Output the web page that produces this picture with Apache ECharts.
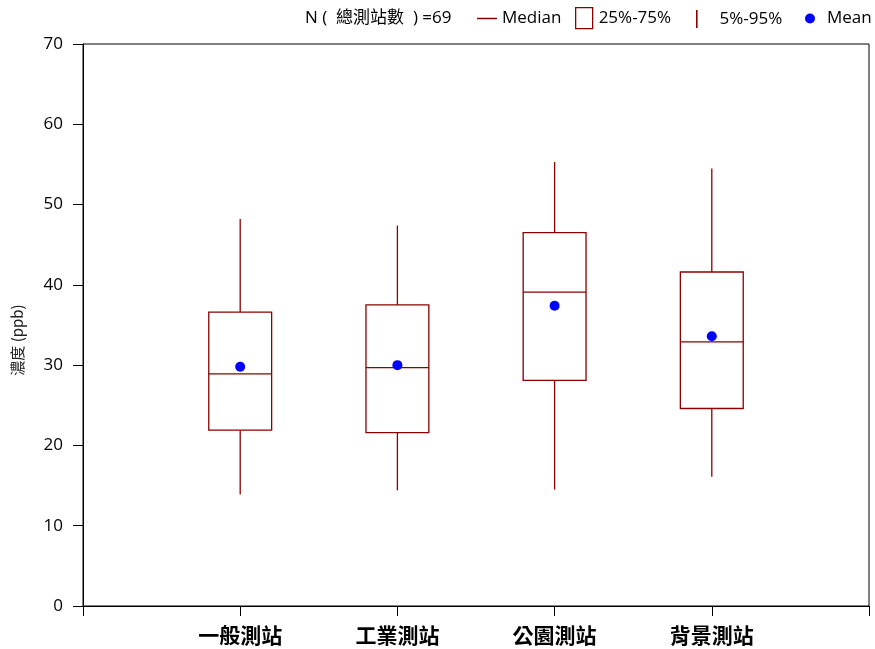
<!DOCTYPE html>
<html>
<head>
<meta charset="utf-8">
<script src="https://cdn.jsdelivr.net/npm/echarts@6/dist/echarts.min.js"></script>
<style>html,body{margin:0;padding:0;background:#fff;}#c{width:875px;height:649px;}</style>
</head>
<body>
<div id="c"></div>
<script>
var categories = ['一般測站', '工業測站', '公園測站', '背景測站'];
var p5 = [13.9, 14.4, 14.5, 16.1];
var q1 = [21.9, 21.6, 28.1, 24.6];
var median = [28.9, 29.7, 39.1, 32.9];
var q3 = [36.6, 37.5, 46.5, 41.6];
var p95 = [48.2, 47.4, 55.3, 54.5];
var mean = [29.8, 30.0, 37.4, 33.6];
var yTicks = [0, 10, 20, 30, 40, 50, 60, 70];
var nText = 'N (  總測站數  ) =69';

var RED = '#8B0000';
var BLUE = '#0000FF';
var FONT = '"Open Sans", "Noto Sans", sans-serif';
var CJK = '"Noto Sans CJK TC", "Noto Sans CJK SC", sans-serif';

var boxData = categories.map(function (c, i) {
  return [i + 1, p5[i], q1[i], median[i], q3[i], p95[i]];
});
var meanData = categories.map(function (c, i) { return [i + 1, mean[i]]; });

var HALF = 0.2; // half box width in x-axis units

function renderWhisker(params, api) {
  var x = api.value(0);
  var lo = api.coord([x, api.value(1)]);
  var a = api.coord([x, api.value(2)]);
  var b = api.coord([x, api.value(4)]);
  var hi = api.coord([x, api.value(5)]);
  var st = { stroke: RED, lineWidth: 1.3 };
  return { type: 'group', children: [
    { type: 'line', shape: { x1: lo[0], y1: lo[1], x2: a[0], y2: a[1] }, style: st },
    { type: 'line', shape: { x1: b[0], y1: b[1], x2: hi[0], y2: hi[1] }, style: st }
  ]};
}
function renderBox(params, api) {
  var x = api.value(0);
  var tl = api.coord([x - HALF, api.value(4)]);
  var br = api.coord([x + HALF, api.value(2)]);
  return { type: 'rect', shape: { x: tl[0], y: tl[1], width: br[0] - tl[0], height: br[1] - tl[1] },
    style: { fill: '#fff', stroke: RED, lineWidth: 1.3 } };
}
function renderMedian(params, api) {
  var x = api.value(0);
  var l = api.coord([x - HALF, api.value(3)]);
  var r = api.coord([x + HALF, api.value(3)]);
  return { type: 'line', shape: { x1: l[0], y1: l[1], x2: r[0], y2: r[1] },
    style: { stroke: RED, lineWidth: 1.3 } };
}

var chart = echarts.init(document.getElementById('c'), null, { renderer: 'canvas' });
function lt(padLeft) {
  return { fontSize: 17, color: '#000', fontFamily: FONT, padding: [0, 0, 0, padLeft || 0] };
}
chart.setOption({
  animation: false,
  backgroundColor: '#fff',
  title: {
    text: nText, left: 305, top: 10, padding: 0,
    textStyle: { fontSize: 17, fontWeight: 'normal', color: '#000', fontFamily: FONT + ', ' + CJK }
  },
  legend: [
    { left: 477, top: 10, padding: 0, itemWidth: 20, itemHeight: 1.5, itemGap: 0, textStyle: lt(0), selectedMode: false,
      data: [{ name: 'Median', icon: 'rect', itemStyle: { color: RED, borderWidth: 0 } }] },
    { left: 575, top: 7, padding: 0, itemWidth: 17, itemHeight: 21, itemGap: 0, textStyle: lt(1), selectedMode: false,
      data: [{ name: '25%-75%', icon: 'rect', itemStyle: { color: '#fff', borderColor: RED, borderWidth: 1.3 } }] },
    { left: 696, top: 10, padding: 0, itemWidth: 1.6, itemHeight: 18, itemGap: 0, textStyle: lt(17), selectedMode: false,
      data: [{ name: '5%-95%', icon: 'rect', itemStyle: { color: RED, borderWidth: 0 } }] },
    { left: 805, top: 10, padding: 0, itemWidth: 10, itemHeight: 10, itemGap: 0, textStyle: lt(7), selectedMode: false,
      data: [{ name: 'Mean', icon: 'circle', itemStyle: { color: BLUE, borderWidth: 0, opacity: 1 } }] }
  ],
  grid: { left: 83, right: 6, top: 44, bottom: 43, show: true, borderColor: '#000', borderWidth: 1, backgroundColor: 'transparent' },
  xAxis: {
    type: 'value', min: 0, max: categories.length + 1, interval: 1,
    splitLine: { show: false },
    axisLine: { lineStyle: { color: '#000', width: 1 } },
    axisTick: { show: true, length: 10, lineStyle: { color: '#000' } },
    axisLabel: {
      margin: 19, fontSize: 21, fontWeight: 'bold', color: '#000', fontFamily: CJK,
      formatter: function (v) { return categories[v - 1] || ''; }
    }
  },
  yAxis: {
    type: 'value', min: yTicks[0], max: yTicks[yTicks.length - 1], interval: yTicks[1] - yTicks[0],
    name: '濃度 (ppb)', nameLocation: 'middle', nameGap: 58,
    nameTextStyle: { fontSize: 15, color: '#222', fontFamily: CJK + ', ' + FONT, padding: [0, 30, 0, 0] },
    splitLine: { show: false },
    axisLine: { show: true, lineStyle: { color: '#000', width: 1 } },
    axisTick: { show: true, length: 10, lineStyle: { color: '#000' } },
    axisLabel: { margin: 20, fontSize: 17, color: '#000', fontFamily: FONT }
  },
  series: [
    { name: '5%-95%', type: 'custom', renderItem: renderWhisker, data: boxData, itemStyle: { color: RED }, encode: { x: 0, y: [1, 2, 3, 4, 5] }, z: 2 },
    { name: '25%-75%', type: 'custom', renderItem: renderBox, data: boxData, itemStyle: { color: RED }, encode: { x: 0, y: [1, 2, 3, 4, 5] }, z: 3 },
    { name: 'Median', type: 'custom', renderItem: renderMedian, data: boxData, itemStyle: { color: RED }, encode: { x: 0, y: [1, 2, 3, 4, 5] }, z: 4 },
    { name: 'Mean', type: 'scatter', data: meanData, symbol: 'circle', symbolSize: 10, itemStyle: { color: BLUE, opacity: 1 }, z: 5 }
  ]
});
</script>
</body>
</html>
